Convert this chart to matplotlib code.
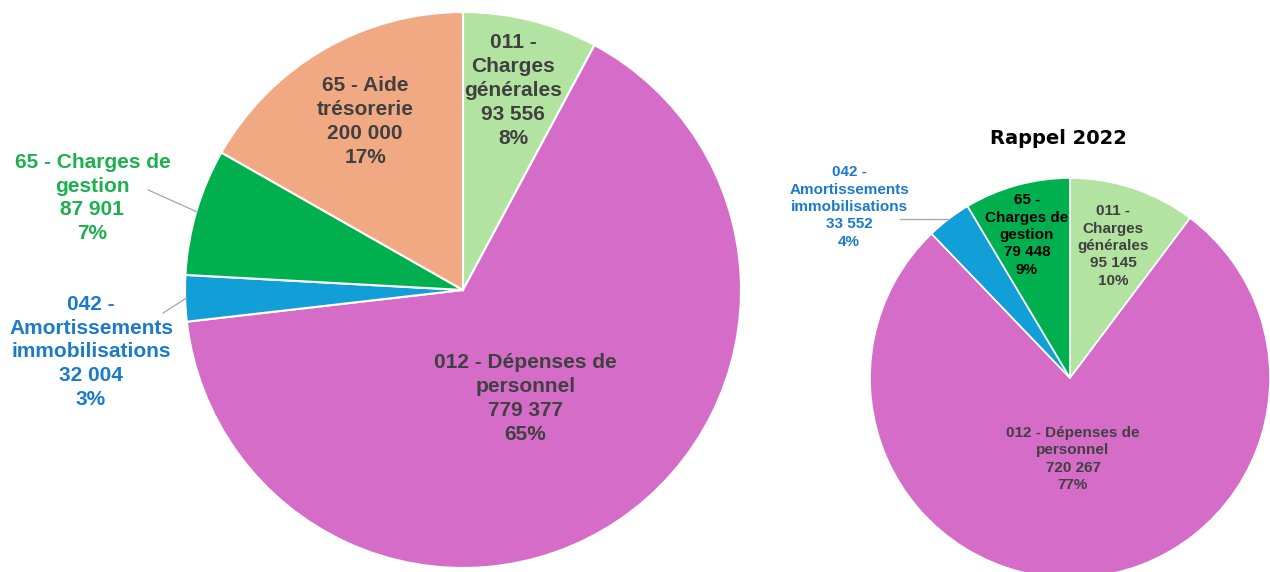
import matplotlib
matplotlib.use("Agg")
import matplotlib.pyplot as plt
import numpy as np

# ---- data ----
cats_2023 = ["011 -\nCharges\ngénérales", "012 - Dépenses de\npersonnel",
             "042 -\nAmortissements\nimmobilisations", "65 - Charges de\ngestion",
             "65 - Aide\ntrésorerie"]
vals_2023 = [93556, 779377, 32004, 87901, 200000]
pcts_2023 = [8, 65, 3, 7, 17]

cats_2022 = ["011 -\nCharges\ngénérales", "012 - Dépenses de\npersonnel",
             "042 -\nAmortissements\nimmobilisations", "65 -\nCharges de\ngestion"]
vals_2022 = [95145, 720267, 33552, 79448]
pcts_2022 = [10, 77, 4, 9]

title_2022 = "Rappel 2022"

# ---- styles ----
colors_2023 = ["#B3E3A0", "#D56CC8", "#129FD8", "#00B04F", "#F1A983"]
colors_2022 = ["#B3E3A0", "#D56CC8", "#129FD8", "#00B04F"]
DARK = "#404040"
GREEN_T = "#1DB04F"
BLUE_T = "#1A7ACB"

plt.rcParams['font.family'] = ['Liberation Sans', 'DejaVu Sans']

W, H = 1270, 572
fig = plt.figure(figsize=(W / 100, H / 100), dpi=100)


def fmt(v):
    return f"{v:,}".replace(",", " ")


def make_axes(cx, cy, r):
    return fig.add_axes([(cx - r) / W, (H - cy - r) / H, 2 * r / W, 2 * r / H])


def finish(ax):
    ax.set_xlim(-1, 1)
    ax.set_ylim(-1, 1)
    ax.set_aspect('equal', adjustable='box')
    ax.axis('off')


def mid(w):
    return np.deg2rad((w.theta1 + w.theta2) / 2)


# big pie
ax1 = make_axes(463, 290, 278)
wedges1, _ = ax1.pie(vals_2023, colors=colors_2023, startangle=90, counterclock=False,
                     radius=1, wedgeprops=dict(edgecolor="white", linewidth=1.5))
finish(ax1)
place1 = [("in", 0.74), ("xy", (0.225, -0.39)), ("out", (-1.338, -0.223, -1.079, -0.083)),
          ("out", (-1.333, 0.331, -1.133, 0.36)), ("in", 0.70)]
tcol1 = [DARK, DARK, BLUE_T, GREEN_T, DARK]
for w, c, v, p, pl, tc in zip(wedges1, cats_2023, vals_2023, pcts_2023, place1, tcol1):
    txt = f"{c}\n{fmt(v)}\n{p}%"
    a = mid(w)
    if pl[0] == "in":
        x, y = pl[1] * np.cos(a), pl[1] * np.sin(a)
    elif pl[0] == "xy":
        x, y = pl[1]
    else:
        x, y, lx, ly = pl[1]
        ax1.plot([lx, 0.997 * np.cos(a)], [ly, 0.997 * np.sin(a)], color="#A6A6A6",
                 lw=0.9, clip_on=False)
    ax1.text(x, y, txt, ha="center", va="center", fontsize=15, fontweight="bold",
             color=tc, linespacing=1.33, clip_on=False)

# small pie
ax2 = make_axes(1070, 378, 200)
wedges2, _ = ax2.pie(vals_2022, colors=colors_2022, startangle=90, counterclock=False,
                     radius=1, wedgeprops=dict(edgecolor="white", linewidth=1.2))
finish(ax2)
place2 = [("xy", (0.215, 0.66)), ("xy", (0.015, -0.405)),
          ("out", (-1.105, 0.855, -0.85, None)), ("xy", (-0.215, 0.715))]
tcol2 = [DARK, DARK, BLUE_T, "black"]
for w, c, v, p, pl, tc in zip(wedges2, cats_2022, vals_2022, pcts_2022, place2, tcol2):
    txt = f"{c}\n{fmt(v)}\n{p}%"
    a = mid(w)
    if pl[0] == "xy":
        x, y = pl[1]
    else:
        x, y, lx, _ = pl[1]
        ey = np.sin(a)
        ax2.plot([lx, np.cos(a)], [ey, ey], color="#A6A6A6", lw=0.9, clip_on=False)
    ax2.text(x, y, txt, ha="center", va="center", fontsize=11, fontweight="bold",
             color=tc, linespacing=1.3, clip_on=False)

fig.text(1058 / W, 1 - 139 / H, title_2022, ha="center", va="center",
         fontsize=14, fontweight="bold", color="black", family="DejaVu Sans")

fig.savefig("out.png", dpi=100)
